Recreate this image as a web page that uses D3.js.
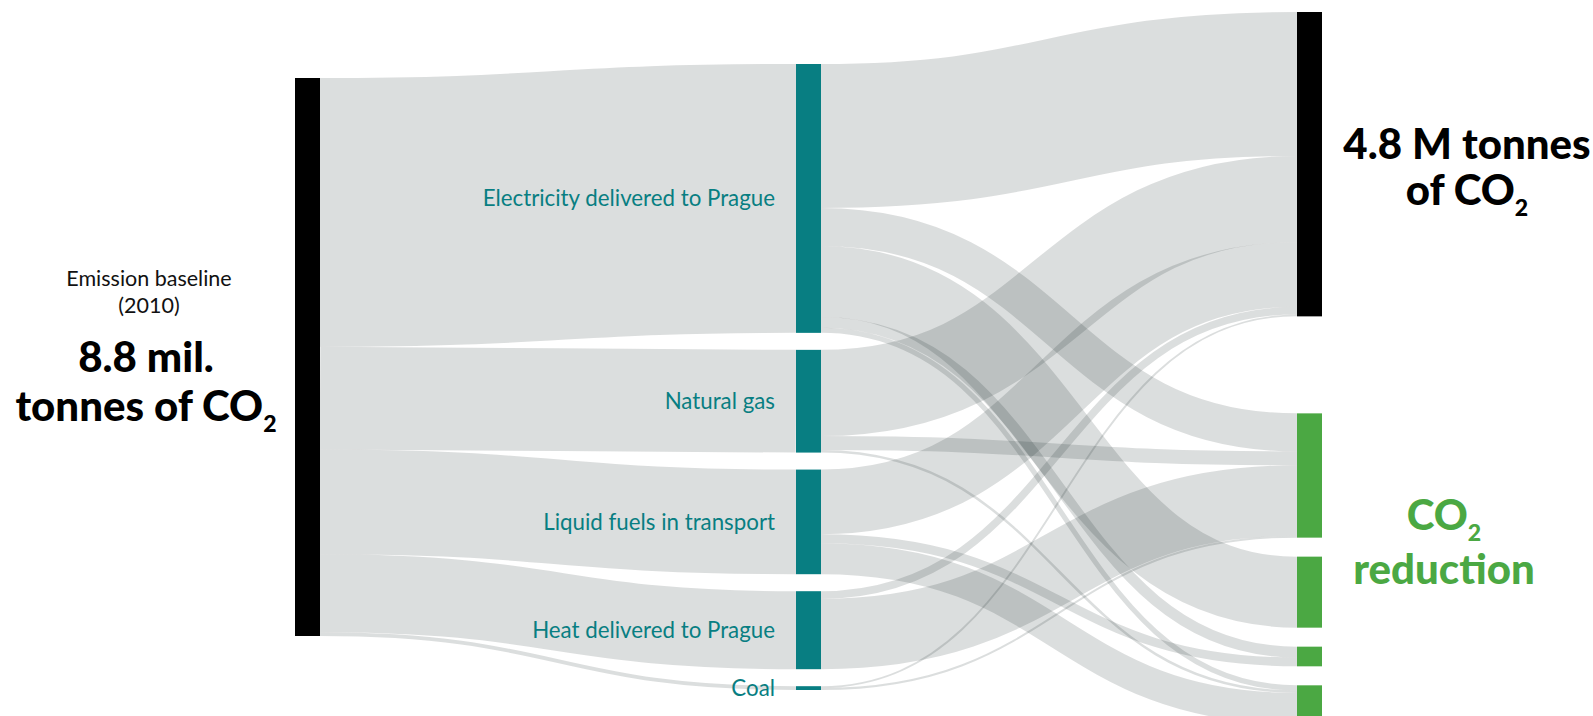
<!DOCTYPE html>
<html>
<head>
<meta charset="utf-8">
<script src="https://cdn.jsdelivr.net/npm/d3@7"></script>
<style>
  html, body { margin: 0; padding: 0; background: #fff; overflow: hidden; }
  svg { display: block; font-family: Lato, "Open Sans", sans-serif; }
</style>
</head>
<body>
<svg id="chart" width="1593" height="716"></svg>
<script>
// ---- data (million tonnes of CO2) ----
const baselineName = "Emission baseline (2010)";
const sectors = [
  "Electricity delivered to Prague",
  "Natural gas",
  "Liquid fuels in transport",
  "Heat delivered to Prague",
  "Coal"
];
const baselineToSector = [4.24, 1.62, 1.65, 1.23, 0.06];

const outcomes = ["Remaining emissions", "Reduction 1", "Reduction 2", "Reduction 3", "Reduction 4"];
const outcomeKind = ["remaining", "reduction", "reduction", "reduction", "reduction"];
// rows: sectors, columns: outcomes
const sectorToOutcome = [
  [2.27, 0.60, 1.12, 0.17, 0.08],
  [1.36, 0.22, 0.00, 0.00, 0.04],
  [1.02, 0.00, 0.00, 0.14, 0.49],
  [0.12, 1.11, 0.00, 0.00, 0.00],
  [0.03, 0.03, 0.00, 0.00, 0.00]
];

// ---- layout settings ----
const W = 1593, H = 716;
const nodeWidth = 25;
const columnTop = [78, 64, 12];
const columnPad = [0, 17, 19];
const groupGap = 97;           // space between remaining emissions and reductions
const colors = { baseline: "#000", sector: "#087e82", remaining: "#000", reduction: "#4ba843" };

const svg = d3.select("#chart");

// ---- build graph ----
const nodes = [];
nodes.push({ name: baselineName, col: 0, kind: "baseline" });
sectors.forEach(s => nodes.push({ name: s, col: 1, kind: "sector" }));
outcomes.forEach((o, i) => nodes.push({ name: o, col: 2, kind: outcomeKind[i] }));
const byName = new Map(nodes.map(n => [n.name, n]));

const links = [];
sectors.forEach((s, i) => {
  if (baselineToSector[i] > 0) links.push({ source: byName.get(baselineName), target: byName.get(s), value: baselineToSector[i] });
});
sectorToOutcome.forEach((row, i) => row.forEach((v, j) => {
  if (v > 0) links.push({ source: byName.get(sectors[i]), target: byName.get(outcomes[j]), value: v });
}));

nodes.forEach(n => { n.sourceLinks = []; n.targetLinks = []; });
links.forEach(l => { l.source.sourceLinks.push(l); l.target.targetLinks.push(l); });
nodes.forEach(n => {
  n.value = Math.max(d3.sum(n.sourceLinks, l => l.value), d3.sum(n.targetLinks, l => l.value));
});

const total = d3.sum(baselineToSector);
const ky = d3.scaleLinear().domain([0, total]).range([0, 558]);
const colX = d3.scalePoint().domain([0, 1, 2]).range([295, 1297]);

// stack nodes in each column
d3.range(3).forEach(c => {
  let y = columnTop[c];
  let prev = null;
  nodes.filter(n => n.col === c).forEach(n => {
    if (prev) y += (prev.kind !== n.kind && c === 2) ? groupGap : columnPad[c];
    n.x0 = colX(c); n.x1 = n.x0 + nodeWidth;
    n.y0 = y; n.y1 = y + ky(n.value);
    y = n.y1;
    prev = n;
  });
});

// link offsets at both ends
links.forEach(l => { l.width = ky(l.value); });
nodes.forEach(n => {
  n.sourceLinks.sort((a, b) => a.target.y0 - b.target.y0);
  n.targetLinks.sort((a, b) => a.source.y0 - b.source.y0);
  let y = n.y0;
  n.sourceLinks.forEach(l => { l.y0 = y + l.width / 2; y += l.width; });
  y = n.y0;
  n.targetLinks.forEach(l => { l.y1 = y + l.width / 2; y += l.width; });
});

// ---- links ----
const linkPath = d3.linkHorizontal()
  .source(d => [d.source.x1, d.y0])
  .target(d => [d.target.x0, d.y1]);

svg.append("g")
  .attr("fill", "none")
  .attr("stroke", "#001414")
  .attr("stroke-opacity", 0.14)
  .selectAll("path")
  .data(links)
  .join("path")
  .attr("d", linkPath)
  .attr("stroke-width", d => Math.max(1, d.width));

// ---- nodes ----
svg.append("g")
  .selectAll("rect")
  .data(nodes)
  .join("rect")
  .attr("x", d => d.x0)
  .attr("y", d => d.y0)
  .attr("width", d => d.x1 - d.x0)
  .attr("height", d => Math.max(1, d.y1 - d.y0))
  .attr("fill", d => colors[d.kind]);

// ---- sector labels ----
svg.append("g")
  .selectAll("text")
  .data(nodes.filter(n => n.col === 1))
  .join("text")
  .attr("x", d => d.x0 - 21)
  .attr("y", d => (d.y0 + d.y1) / 2)
  .attr("dy", "0.35em")
  .attr("text-anchor", "end")
  .attr("fill", colors.sector)
  .attr("font-size", 22.3)
  .text(d => d.name);

// ---- headline labels ----
function co2Line(g, x, y, before, size, color) {
  const t = g.append("text")
    .attr("x", x).attr("y", y)
    .attr("text-anchor", "middle")
    .attr("font-size", size)
    .attr("font-weight", 900)
    .attr("fill", color);
  t.append("tspan").text(before + "CO");
  t.append("tspan").attr("font-size", size * 0.55).attr("dy", size * 0.26).text("2");
  return t;
}
function boldLine(g, x, y, txt, size, color) {
  return g.append("text")
    .attr("x", x).attr("y", y)
    .attr("text-anchor", "middle")
    .attr("font-size", size)
    .attr("font-weight", 900)
    .attr("fill", color)
    .text(txt);
}

const left = svg.append("g");
left.append("text").attr("x", 149).attr("y", 286).attr("text-anchor", "middle")
  .attr("font-size", 21.5).attr("fill", "#111").text("Emission baseline");
left.append("text").attr("x", 149).attr("y", 313).attr("text-anchor", "middle")
  .attr("font-size", 21.5).attr("fill", "#111").text("(2010)");
boldLine(left, 146, 372, "8.8 mil.", 42, "#000");
co2Line(left, 146, 421, "tonnes of ", 42, "#000");

const right = svg.append("g");
boldLine(right, 1467, 159, "4.8 M tonnes", 42, "#000");
co2Line(right, 1467, 205, "of ", 42, "#000");
co2Line(right, 1444, 530, "", 42, colors.reduction);
boldLine(right, 1444, 584, "reduction", 42, colors.reduction);
</script>
</body>
</html>
